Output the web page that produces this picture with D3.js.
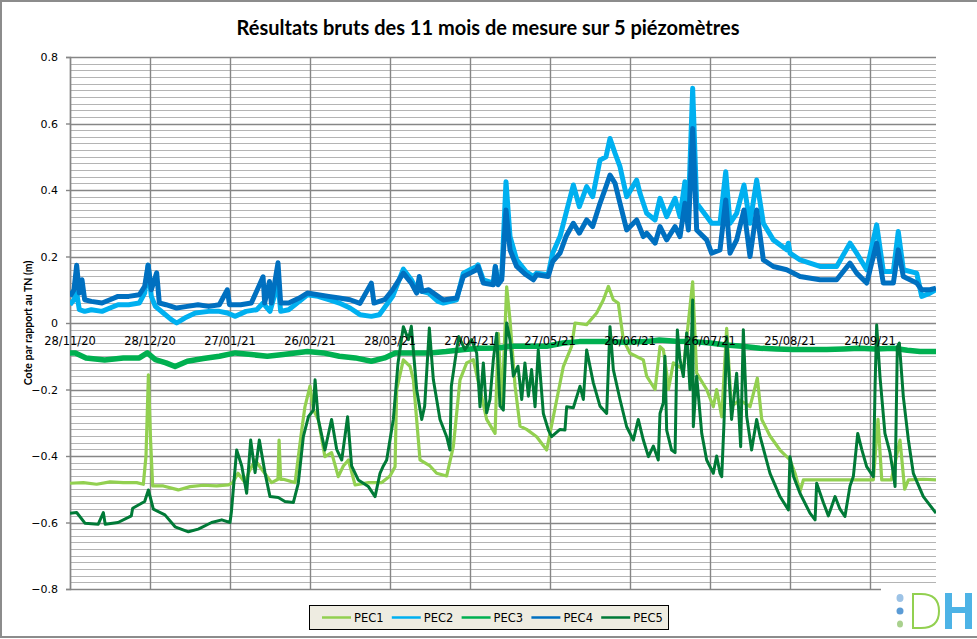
<!DOCTYPE html>
<html>
<head>
<meta charset="utf-8">
<script src="https://cdn.jsdelivr.net/npm/d3@7"></script>
<style>
  body { margin: 0; background: #fff; }
  svg { display: block; }
</style>
</head>
<body>
<svg id="chart" width="977" height="639"></svg>
<script>
// values: [day since 28/11/20, level in m]
const pec1 = [[0,-0.482],[5,-0.48],[10,-0.485],[15,-0.478],[20,-0.48],[25,-0.48],[27.5,-0.485],[28.5,-0.4],[29.4,-0.156],[30.2,-0.35],[31,-0.49],[35,-0.49],[40.6,-0.502],[45,-0.492],[50,-0.488],[55,-0.49],[59.4,-0.487],[61,-0.48],[63,-0.452],[65.6,-0.48],[67,-0.45],[69.4,-0.412],[71.9,-0.44],[75.6,-0.48],[78,-0.47],[78.4,-0.352],[79,-0.47],[80,-0.47],[84.4,-0.48],[86.9,-0.322],[88.1,-0.252],[90,-0.19],[91.25,-0.26],[93.1,-0.29],[95.6,-0.402],[98.1,-0.39],[100.6,-0.462],[102.5,-0.43],[104.4,-0.412],[106.9,-0.487],[112,-0.48],[116.9,-0.48],[120,-0.46],[121.9,-0.432],[122.5,-0.2],[125,-0.111],[127.5,-0.13],[128.75,-0.17],[131.25,-0.412],[135,-0.43],[137.5,-0.452],[141.25,-0.46],[143.75,-0.372],[146.25,-0.171],[148.75,-0.12],[151.25,-0.11],[153.75,-0.2],[156.25,-0.29],[159.4,-0.332],[160.6,-0.031],[162,-0.25],[163.75,0.109],[165,0.009],[166.9,-0.19],[168.75,-0.31],[171.25,-0.32],[175,-0.342],[178.75,-0.382],[181.25,-0.282],[185,-0.131],[188.1,-0.07],[189.4,0],[193.75,-0.005],[197.5,0.03],[200,0.069],[201.9,0.11],[203.75,0.07],[205.6,0.06],[207.5,-0.05],[210,-0.091],[215,-0.111],[216.25,-0.16],[219.4,-0.2],[221.25,-0.071],[222.5,-0.08],[223.75,-0.151],[224.4,-0.2],[226.25,-0.12],[230,-0.14],[233.5,0.124],[235,-0.151],[238.75,-0.2],[241.25,-0.252],[242.5,-0.2],[244.4,-0.282],[246.25,-0.016],[248,-0.25],[251.25,-0.232],[255,-0.252],[257.75,-0.166],[259.4,-0.29],[262.5,-0.34],[266.25,-0.382],[270,-0.412],[271.9,-0.452],[273.75,-0.507],[275,-0.472],[285,-0.472],[295,-0.472],[301.25,-0.472],[303,-0.29],[304.4,-0.472],[308,-0.472],[311.25,-0.352],[313,-0.5],[314.4,-0.472],[320,-0.47],[324.75,-0.472]];

const pec2 = [[0,0.055],[1.5,0.07],[2.5,0.09],[3.5,0.04],[5.5,0.035],[8,0.04],[12,0.035],[15,0.045],[18,0.055],[22,0.055],[26,0.06],[28,0.09],[29.3,0.174],[30.5,0.08],[32,0.05],[35,0.03],[38,0.01],[40,0],[43,0.015],[47,0.03],[52,0.035],[56,0.035],[59,0.03],[62,0.02],[66,0.035],[70,0.04],[72.4,0.06],[75,0.035],[78,0.12],[79,0.035],[82,0.04],[86,0.065],[89,0.085],[93,0.08],[97,0.07],[101,0.06],[105,0.045],[108.75,0.025],[113,0.02],[116,0.025],[121,0.08],[125,0.162],[128,0.13],[130,0.1],[134.5,0.09],[138,0.065],[140,0.06],[145,0.07],[147.5,0.15],[150,0.16],[152.5,0.17],[153,0.175],[155,0.13],[158.75,0.12],[159.5,0.17],[160.5,0.12],[161.9,0.14],[163.5,0.425],[165,0.26],[167.5,0.19],[171,0.155],[173.75,0.14],[175,0.15],[179.3,0.145],[181,0.21],[183.75,0.26],[186,0.33],[188.75,0.415],[191,0.35],[193.75,0.41],[196,0.38],[198.75,0.49],[201,0.5],[202.5,0.555],[204.4,0.51],[206.25,0.47],[208.75,0.38],[212.5,0.43],[213.75,0.39],[216.25,0.33],[219.4,0.31],[221.25,0.375],[223.75,0.32],[226.9,0.375],[228.75,0.32],[230.6,0.425],[231.9,0.34],[233.5,0.706],[235,0.36],[238.75,0.32],[240.6,0.3],[243.75,0.3],[245.9,0.455],[247.5,0.3],[250,0.33],[252.75,0.415],[255,0.3],[257.5,0.43],[260,0.3],[263.75,0.25],[268.75,0.22],[269.4,0.24],[270,0.21],[273.75,0.19],[281.25,0.17],[287.5,0.17],[292.5,0.24],[295,0.21],[298.75,0.16],[302.5,0.295],[305,0.155],[308.75,0.155],[310.6,0.275],[312.5,0.16],[317.5,0.15],[319.4,0.08],[322.5,0.09],[324.75,0.1]];

const pec3 = [[0,-0.09],[2,-0.09],[6,-0.105],[13,-0.111],[20,-0.105],[26,-0.105],[29,-0.09],[32,-0.11],[36,-0.12],[39.4,-0.131],[44,-0.115],[50,-0.107],[56,-0.1],[62,-0.09],[68,-0.095],[74,-0.1],[80,-0.095],[89,-0.086],[95,-0.09],[101,-0.1],[107,-0.105],[113,-0.115],[118,-0.105],[122,-0.09],[128.7,-0.09],[135,-0.09],[141,-0.086],[148,-0.08],[153.75,-0.076],[160,-0.075],[166,-0.07],[172,-0.07],[178.75,-0.07],[185,-0.06],[191,-0.056],[200,-0.056],[208,-0.058],[216,-0.056],[221,-0.051],[227,-0.055],[233.75,-0.056],[240,-0.06],[246,-0.066],[252,-0.07],[258.75,-0.076],[265,-0.078],[271,-0.08],[277,-0.08],[283.75,-0.08],[290,-0.078],[296,-0.076],[302,-0.078],[308.75,-0.076],[314,-0.082],[318.75,-0.086],[324.75,-0.086]];

const pec4 = [[0,0.08],[1.5,0.1],[2.5,0.174],[3.5,0.09],[4.5,0.13],[5.5,0.07],[8,0.065],[12,0.06],[15,0.07],[18,0.08],[22,0.08],[26,0.085],[28,0.11],[29.3,0.174],[30.5,0.1],[32.5,0.151],[33.5,0.06],[36,0.055],[40,0.045],[44,0.05],[48,0.055],[52,0.05],[56,0.055],[59,0.1],[59.8,0.055],[64,0.055],[68,0.06],[72.4,0.139],[73,0.06],[74.8,0.125],[75.5,0.06],[78,0.181],[79,0.06],[82,0.06],[86,0.075],[89,0.09],[93,0.085],[97,0.08],[101,0.075],[105,0.07],[108.75,0.059],[113,0.12],[114,0.06],[118,0.07],[121,0.1],[125,0.15],[128,0.12],[130,0.09],[131,0.14],[132,0.095],[134.5,0.1],[138,0.08],[140,0.069],[145,0.075],[147.5,0.14],[150,0.15],[152.5,0.16],[153,0.17],[155,0.12],[158.75,0.115],[159.5,0.17],[160.5,0.115],[161.9,0.13],[163.5,0.34],[165,0.22],[167.5,0.17],[171,0.145],[173.75,0.13],[175,0.145],[179.3,0.14],[181,0.185],[183.75,0.21],[186,0.26],[188.75,0.3],[191,0.27],[193.75,0.31],[196,0.29],[198.75,0.36],[201,0.41],[202.5,0.445],[204.4,0.42],[206.25,0.36],[208.75,0.28],[212.5,0.31],[215,0.26],[216.25,0.27],[219.4,0.24],[221.25,0.29],[223.75,0.25],[226.9,0.29],[228.75,0.26],[230.6,0.36],[231.9,0.28],[233.5,0.585],[235,0.28],[238.75,0.25],[240.6,0.21],[243.75,0.22],[245.9,0.37],[247.5,0.21],[250,0.25],[252.75,0.34],[255,0.2],[257.5,0.34],[260,0.19],[263.75,0.17],[268.75,0.16],[273.75,0.14],[281.25,0.13],[287.5,0.13],[292.5,0.18],[295,0.15],[298.75,0.12],[302.5,0.24],[305,0.12],[308.75,0.12],[310.6,0.22],[312.5,0.14],[317.5,0.12],[319.4,0.1],[322.5,0.1],[324.75,0.105]];

const pec5 = [[0,-0.572],[2.5,-0.57],[5.6,-0.602],[10.6,-0.605],[12.5,-0.57],[13.2,-0.605],[18,-0.6],[23,-0.58],[23.5,-0.557],[28,-0.537],[29.4,-0.502],[31.25,-0.56],[35.6,-0.577],[39.4,-0.613],[44.4,-0.628],[48.1,-0.62],[53.1,-0.6],[56.9,-0.592],[60,-0.6],[60.5,-0.57],[62.5,-0.382],[64.4,-0.43],[66.25,-0.512],[67.75,-0.352],[69.4,-0.45],[71,-0.352],[73.1,-0.45],[75,-0.522],[78.1,-0.525],[80.6,-0.537],[83.75,-0.54],[85.6,-0.482],[87.5,-0.342],[89.4,-0.282],[91.25,-0.262],[91.9,-0.171],[93.1,-0.29],[95.6,-0.382],[98.1,-0.29],[100,-0.38],[101.9,-0.412],[104.1,-0.282],[105.6,-0.43],[108.1,-0.472],[111.9,-0.492],[114.4,-0.522],[116.25,-0.452],[117.5,-0.43],[118.75,-0.412],[120.6,-0.322],[121.25,-0.29],[123,-0.121],[125,-0.011],[126.9,-0.05],[128,-0.01],[130,-0.2],[131.9,-0.29],[133,-0.25],[134.75,-0.015],[136.25,-0.17],[138.75,-0.29],[141.25,-0.342],[142.5,-0.382],[143,-0.19],[145,-0.08],[145.8,-0.041],[148.1,-0.08],[150.6,-0.05],[152.5,-0.09],[153.75,-0.252],[155,-0.12],[156.25,-0.27],[157.5,-0.23],[158.75,-0.11],[160,-0.031],[161.25,-0.25],[162.5,-0.262],[163.75,0],[165,-0.05],[166.25,-0.16],[168,-0.13],[169.4,-0.23],[170.6,-0.12],[171.9,-0.22],[173.1,-0.14],[174.4,-0.252],[175.6,-0.081],[177.5,-0.272],[179.4,-0.322],[180.6,-0.342],[183.75,-0.32],[185.6,-0.322],[186.25,-0.252],[188.75,-0.255],[191.25,-0.19],[192.5,-0.23],[193.75,-0.081],[196.25,-0.18],[198.75,-0.25],[201.25,-0.272],[202.5,-0.011],[203.75,-0.14],[206.25,-0.23],[208.75,-0.312],[211.25,-0.352],[213.1,-0.29],[215,-0.352],[216.9,-0.402],[218.75,-0.37],[220.6,-0.412],[221.25,-0.272],[222.5,-0.24],[223.1,-0.1],[223.75,-0.322],[225.6,-0.382],[226.9,-0.39],[227.75,-0.021],[228.75,-0.11],[230,-0.161],[231.25,-0.03],[232.5,-0.2],[233.5,0.069],[233.75,-0.312],[235,-0.16],[236.9,-0.332],[238.75,-0.412],[241.25,-0.452],[242.5,-0.4],[243.75,-0.452],[244.4,-0.462],[245.25,-0.3],[246.25,-0.041],[248.1,-0.29],[250,-0.151],[251.5,-0.372],[252.5,-0.02],[253.75,-0.28],[255.6,-0.382],[257.5,-0.29],[258.75,-0.34],[262.5,-0.452],[266.25,-0.522],[269.4,-0.562],[270,-0.402],[271.25,-0.46],[273.75,-0.512],[277.5,-0.572],[279.4,-0.592],[280,-0.482],[282.5,-0.54],[284.4,-0.58],[286.9,-0.522],[288.75,-0.56],[290.6,-0.582],[292.5,-0.49],[293.75,-0.462],[295.4,-0.332],[296.9,-0.38],[298.75,-0.432],[301.25,-0.462],[301.9,-0.19],[302.5,-0.006],[303.75,-0.162],[305.6,-0.332],[307.5,-0.39],[308.75,-0.452],[309.4,-0.492],[310.25,-0.071],[311,-0.06],[312.5,-0.222],[314.4,-0.352],[316.25,-0.452],[320,-0.522],[324.75,-0.572]];

const seriesNames = ["PEC1", "PEC2", "PEC3", "PEC4", "PEC5"];
const seriesColors = ["#92d050", "#00b0f0", "#00b050", "#0070c0", "#007a37"];
const seriesWidths = [3.2, 5, 5.5, 5, 3];
const tickDays = [0, 30, 60, 90, 120, 150, 180, 210, 240, 270, 300];
const lastDay = 324.75;
const yTicks = [0.8, 0.6, 0.4, 0.2, 0, -0.2, -0.4, -0.6, -0.8];

const startMs = Date.UTC(2020, 10, 28);
const toDate = d => new Date(startMs + d * 864e5);

const svg = d3.select("#chart");
const plotL = 70, plotR = 936, plotT = 57, plotB = 589;

const x = d3.scaleUtc().domain([toDate(0), toDate(lastDay)]).range([plotL, plotR]);
const y = d3.scaleLinear().domain([-0.8, 0.8]).range([plotB, plotT]);

// outer frame
svg.append("rect")
    .attr("x", 1).attr("y", 1).attr("width", 990).attr("height", 636)
    .attr("fill", "#fff").attr("stroke", "#8c8c8c").attr("stroke-width", 2);

// title
svg.append("text")
    .attr("x", 488).attr("y", 35)
    .attr("text-anchor", "middle")
    .style("font-family", "Lato, 'Liberation Sans', sans-serif")
    .style("font-weight", "bold")
    .style("font-size", "20px")
    .text("Résultats bruts des 11 mois de mesure sur 5 piézomètres");

// horizontal grid: minor every 0.02, major every 0.2
const minor = d3.range(-40, 41).map(i => i / 50);
svg.append("g").selectAll("line")
    .data(minor)
    .join("line")
    .attr("x1", plotL).attr("x2", plotR)
    .attr("y1", d => Math.round(y(d)) + 0.5)
    .attr("y2", d => Math.round(y(d)) + 0.5)
    .attr("stroke", (d, i) => i % 10 === 0 ? "#868686" : "#b4b4b4")
    .attr("stroke-width", (d, i) => i % 10 === 0 ? 1.4 : 1);

// vertical grid every 30 days
svg.append("g").selectAll("line")
    .data(tickDays)
    .join("line")
    .attr("x1", d => Math.round(x(toDate(d))) + 0.5)
    .attr("x2", d => Math.round(x(toDate(d))) + 0.5)
    .attr("y1", plotT).attr("y2", plotB)
    .attr("stroke", "#868686").attr("stroke-width", 1.4);

// y axis
const yAxis = svg.append("g")
    .attr("transform", `translate(${plotL},0)`)
    .call(d3.axisLeft(y).tickValues(yTicks).tickSize(4).tickPadding(8)
        .tickFormat(d => d === 0 ? "0" : d3.format(".1f")(d)));
yAxis.select(".domain").attr("stroke", "#868686").attr("stroke-width", 1.4);
yAxis.selectAll(".tick line").attr("stroke", "#868686").attr("stroke-width", 1.4);
yAxis.selectAll("text")
    .style("font-family", "'DejaVu Sans', sans-serif")
    .style("font-size", "11px")
    .attr("fill", "#000");

// y axis title
svg.append("text")
    .attr("transform", `translate(32,${(plotT + plotB) / 2}) rotate(-90)`)
    .attr("text-anchor", "middle")
    .style("font-family", "Lato, 'Liberation Sans', sans-serif")
    .style("font-weight", "bold")
    .style("font-size", "10.5px")
    .text("Cote par rapport au TN (m)");

// series
svg.append("clipPath").attr("id", "plot")
    .append("rect").attr("x", plotL).attr("y", plotT - 2)
    .attr("width", plotR - plotL).attr("height", plotB - plotT + 4);

const line = d3.line()
    .x(d => x(toDate(d[0])))
    .y(d => y(d[1]));

const allSeries = [pec1, pec2, pec3, pec4, pec5];
svg.append("g").attr("clip-path", "url(#plot)")
    .selectAll("path")
    .data(allSeries)
    .join("path")
    .attr("d", line)
    .attr("fill", "none")
    .attr("stroke", (d, i) => seriesColors[i])
    .attr("stroke-width", (d, i) => seriesWidths[i])
    .attr("stroke-linejoin", "round");

// x labels sit under the zero line
const xFmt = d3.utcFormat("%d/%m/%y");
svg.append("g").selectAll("text")
    .data(tickDays)
    .join("text")
    .attr("x", d => x(toDate(d)))
    .attr("y", y(0) + 22)
    .attr("text-anchor", "middle")
    .style("font-family", "'DejaVu Sans', sans-serif")
    .style("font-size", "11.5px")
    .text(d => xFmt(toDate(d)));

// legend
const legend = svg.append("g");
legend.append("rect")
    .attr("x", 309.5).attr("y", 605.5).attr("width", 359).attr("height", 24)
    .attr("fill", "#eeece1").attr("stroke", "#000").attr("stroke-width", 1);
const item = legend.selectAll("g")
    .data(seriesNames)
    .join("g")
    .attr("transform", (d, i) => `translate(${322 + i * 69.8},617.5)`);
item.append("line")
    .attr("x1", 0).attr("x2", 29)
    .attr("stroke", (d, i) => seriesColors[i])
    .attr("stroke-width", 2.5);
item.append("text")
    .attr("x", 32).attr("y", 4.5)
    .style("font-family", "'DejaVu Sans', sans-serif")
    .style("font-size", "11.5px")
    .text(d => d);

// logo block (white background hides the axis end)
const logo = svg.append("g");
logo.append("rect").attr("x", 881).attr("y", 588).attr("width", 96).attr("height", 48).attr("fill", "#fff");
logo.append("ellipse").attr("cx", 900).attr("cy", 598).attr("rx", 3.5).attr("ry", 4).attr("fill", "#9dc3e6");
logo.append("ellipse").attr("cx", 900).attr("cy", 611).attr("rx", 3.5).attr("ry", 3.5).attr("fill", "#5b9bd5");
logo.append("ellipse").attr("cx", 900).attr("cy", 624).attr("rx", 3).attr("ry", 3.5).attr("fill", "#a9d18e");
logo.append("path")
    .attr("d", "M913,594 L921,594 Q939,594 939,611 Q939,628 921,628 L913,628 Z")
    .attr("fill", "none").attr("stroke", "#92d050").attr("stroke-width", 2);
logo.append("path")
    .attr("d", "M945,593 h7 v14 h13 v-14 h7 v36 h-7 v-16 h-13 v16 h-7 Z")
    .attr("fill", "#4db3e6");
</script>
</body>
</html>
